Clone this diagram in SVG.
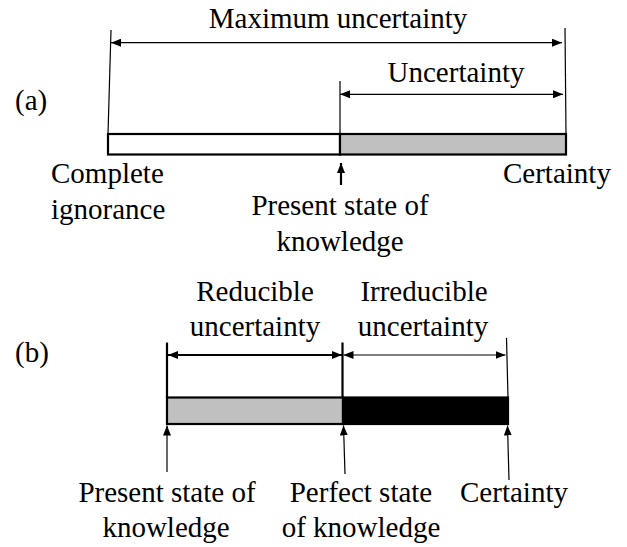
<svg xmlns="http://www.w3.org/2000/svg" width="627" height="547" viewBox="0 0 627 547">
  <style>
    text { font-family: "Liberation Serif", "Times New Roman", serif; font-size: 29px; fill: #000; }
    .mid { text-anchor: middle; }
    .thin { stroke: #000; stroke-width: 1.2; fill: none; }
    .thick { stroke: #000; stroke-width: 2.2; fill: none; }
    .bar { stroke: #000; stroke-width: 2.2; }
  </style>
  <defs>
    <marker id="ah" viewBox="0 0 10 8" refX="10" refY="4" markerWidth="10" markerHeight="8" markerUnits="userSpaceOnUse" orient="auto-start-reverse">
      <path d="M0,0 L10,4 L0,8 z" fill="#000"/>
    </marker>
  </defs>
  <rect width="627" height="547" fill="#fff"/>

  <g id="panel-a">
    <text x="15" y="110">(a)</text>
    <g id="bar-a">
      <rect class="bar" x="108" y="134" width="232" height="20.5" fill="#fff"/>
      <rect class="bar" x="340" y="134" width="226" height="20.5" fill="#c0c0c0"/>
    </g>
    <g id="label-max"><text class="mid" x="338" y="27.5">Maximum uncertainty</text></g>
    <g id="label-unc"><text class="mid" x="456" y="81.5">Uncertainty</text></g>
    <g id="label-complete">
      <text x="51" y="183">Complete</text>
      <text x="51" y="219">ignorance</text>
    </g>
    <g id="label-present-a">
      <text class="mid" x="340" y="215">Present state of</text>
      <text class="mid" x="340" y="251">knowledge</text>
    </g>
    <g id="label-certainty-a"><text x="503" y="183">Certainty</text></g>
  </g>

  <g id="panel-b">
    <text x="15" y="362">(b)</text>
    <g id="bar-b">
      <rect class="bar" x="167" y="397.5" width="176" height="26.5" fill="#c0c0c0"/>
      <rect class="bar" x="343" y="397.5" width="165" height="26.5" fill="#000"/>
    </g>
    <g id="label-reducible">
      <text class="mid" x="255" y="301">Reducible</text>
      <text class="mid" x="255" y="336">uncertainty</text>
    </g>
    <g id="label-irreducible">
      <text class="mid" x="424" y="301">Irreducible</text>
      <text class="mid" x="423" y="336">uncertainty</text>
    </g>
    <g id="label-present-b">
      <text class="mid" x="167" y="502">Present state of</text>
      <text class="mid" x="166" y="537">knowledge</text>
    </g>
    <g id="label-perfect">
      <text class="mid" x="361" y="502">Perfect state</text>
      <text class="mid" x="361" y="537">of knowledge</text>
    </g>
    <g id="label-certainty-b"><text class="mid" x="514" y="502">Certainty</text></g>
  </g>

  <g id="connectors">
    <!-- panel a extension lines -->
    <line class="thin" x1="111" y1="30" x2="108" y2="134"/>
    <line class="thin" x1="565" y1="28" x2="566" y2="134"/>
    <line class="thin" x1="340" y1="81" x2="340" y2="134"/>
    <!-- panel a dimension arrows -->
    <line class="thin" x1="111" y1="42.7" x2="562" y2="42.7" marker-start="url(#ah)" marker-end="url(#ah)"/>
    <line class="thin" x1="340" y1="94.3" x2="563" y2="94.3" marker-start="url(#ah)" marker-end="url(#ah)"/>
    <!-- present state pointer -->
    <line class="thick" x1="341" y1="185" x2="341" y2="163" marker-end="url(#ah)"/>

    <!-- panel b extension lines -->
    <line class="thick" x1="167" y1="342.5" x2="167" y2="398"/>
    <line class="thick" x1="342.5" y1="342.5" x2="342.5" y2="398"/>
    <line class="thin" x1="506.5" y1="338" x2="508" y2="398"/>
    <!-- panel b dimension arrows -->
    <line class="thick" x1="168" y1="355" x2="342" y2="355" marker-start="url(#ah)" marker-end="url(#ah)"/>
    <line class="thin" x1="343.5" y1="355" x2="505.5" y2="355" marker-start="url(#ah)" marker-end="url(#ah)"/>
    <!-- panel b pointers -->
    <line class="thin" x1="167" y1="472" x2="167" y2="425.5" marker-end="url(#ah)"/>
    <line class="thin" x1="345" y1="474" x2="343.5" y2="425.5" marker-end="url(#ah)"/>
    <line class="thin" x1="509" y1="480" x2="507.5" y2="425.5" marker-end="url(#ah)"/>
  </g>
</svg>
